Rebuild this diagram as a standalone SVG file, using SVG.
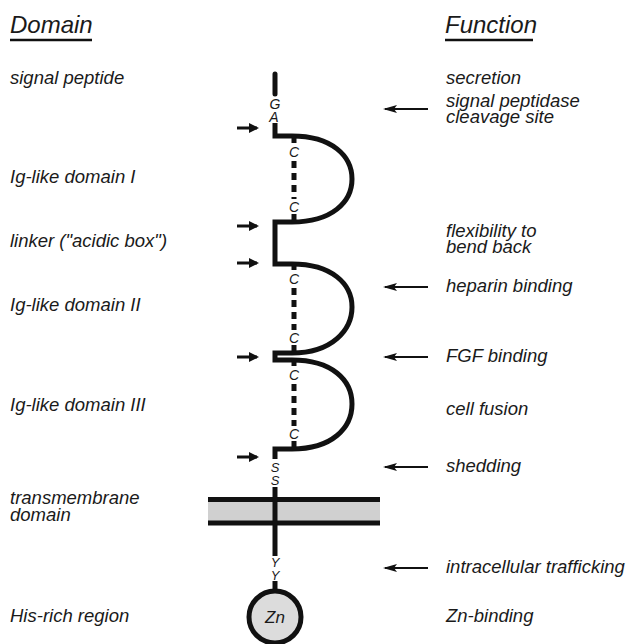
<svg xmlns="http://www.w3.org/2000/svg" width="632" height="644" viewBox="0 0 632 644">
<style>
text{font-family:"Liberation Sans",Arial,Helvetica,sans-serif;font-style:italic;fill:#1a1a1a}
.lbl{font-size:18.5px}
.ttl{font-size:24px}
.res{font-size:14px;text-anchor:middle}
.sm{font-size:13px;text-anchor:middle}
.chain{fill:none;stroke:#111;stroke-width:5;stroke-linejoin:miter}
.ss{fill:none;stroke:#111;stroke-width:5}
.la{stroke:#111;stroke-width:3;marker-end:url(#headS)}
.ra{stroke:#111;stroke-width:2;marker-end:url(#headL)}
</style>
<defs>
<marker id="headS" viewBox="0 0 10 10" refX="8" refY="5" markerWidth="10" markerHeight="11" markerUnits="userSpaceOnUse" orient="auto"><path d="M0,0 L10,5 L0,10 z" fill="#111"/></marker>
<marker id="headL" viewBox="0 0 14 8" refX="12" refY="4" markerWidth="14" markerHeight="8" markerUnits="userSpaceOnUse" orient="auto"><path d="M0,0 L14,4 L0,8 L3,4 z" fill="#111"/></marker>
</defs>
<g id="titles">
<text class="ttl" x="10" y="33">Domain</text>
<line x1="10" y1="40" x2="92" y2="40" stroke="#111" stroke-width="2.5"/>
<text class="ttl" x="445" y="33">Function</text>
<line x1="445" y1="40" x2="533" y2="40" stroke="#111" stroke-width="2.5"/>
</g>
<g id="domain-labels">
<text class="lbl" x="10" y="84">signal peptide</text>
<text class="lbl" x="10" y="183">Ig-like domain I</text>
<text class="lbl" x="10" y="247">linker ("acidic box")</text>
<text class="lbl" x="10" y="311">Ig-like domain II</text>
<text class="lbl" x="10" y="411">Ig-like domain III</text>
<text class="lbl" x="10" y="504">transmembrane</text>
<text class="lbl" x="10" y="521">domain</text>
<text class="lbl" x="10" y="622">His-rich region</text>
</g>
<g id="function-labels">
<text class="lbl" x="446" y="84">secretion</text>
<text class="lbl" x="446" y="107">signal peptidase</text>
<text class="lbl" x="446" y="123">cleavage site</text>
<text class="lbl" x="446" y="237">flexibility to</text>
<text class="lbl" x="446" y="253">bend back</text>
<text class="lbl" x="446" y="292">heparin binding</text>
<text class="lbl" x="446" y="362">FGF binding</text>
<text class="lbl" x="446" y="415">cell fusion</text>
<text class="lbl" x="446" y="472">shedding</text>
<text class="lbl" x="446" y="573">intracellular trafficking</text>
<text class="lbl" x="446" y="622">Zn-binding</text>
</g>
<g id="membrane">
<rect x="208" y="501" width="172" height="21" fill="#d0d0d0"/>
<line x1="208" y1="499.5" x2="380" y2="499.5" stroke="#111" stroke-width="5"/>
<line x1="208" y1="523" x2="380" y2="523" stroke="#111" stroke-width="5"/>
</g>
<g id="signal-peptide">
<line x1="275" y1="74" x2="275" y2="94" stroke="#111" stroke-width="5" stroke-linecap="round"/>
<text class="res" x="275" y="109">G</text>
<text class="res" x="274" y="122">A</text>
</g>
<g id="ig-domains">
<path class="chain" d="M275,123 V136 H292 C332,136 352,156 352,179 C352,202 332,222 292,222 H275 V264 H292 C332,264 352,284 352,307 C352,330 332,353 292,353 H275 V360 H292 C332,360 352,380 352,404 C352,428 332,449 292,449 H275 V459"/>
<g id="ss-bond-1">
<line class="ss" x1="294" y1="136" x2="294" y2="143"/>
<text class="res" x="294" y="157">C</text>
<line class="ss" x1="294" y1="161" x2="294" y2="199" stroke-dasharray="7 5"/>
<text class="res" x="294" y="212">C</text>
<line class="ss" x1="294" y1="214" x2="294" y2="222"/>
</g>
<g id="ss-bond-2">
<line class="ss" x1="294" y1="264" x2="294" y2="270"/>
<text class="res" x="294" y="284">C</text>
<line class="ss" x1="294" y1="288" x2="294" y2="330" stroke-dasharray="7 5"/>
<text class="res" x="294" y="343">C</text>
<line class="ss" x1="294" y1="345" x2="294" y2="353"/>
</g>
<g id="ss-bond-3">
<line class="ss" x1="294" y1="360" x2="294" y2="366"/>
<text class="res" x="294" y="380">C</text>
<line class="ss" x1="294" y1="384" x2="294" y2="426" stroke-dasharray="7 5"/>
<text class="res" x="294" y="439">C</text>
<line class="ss" x1="294" y1="441" x2="294" y2="449"/>
</g>
</g>
<g id="transmembrane">
<text class="sm" x="275" y="472">S</text>
<text class="sm" x="275" y="485">S</text>
<line x1="275" y1="487" x2="275" y2="556" stroke="#111" stroke-width="5"/>
<text class="sm" x="275" y="567">Y</text>
<text class="sm" x="275" y="580">Y</text>
<line x1="275" y1="581" x2="275" y2="591" stroke="#111" stroke-width="5"/>
</g>
<g id="his-rich">
<circle cx="275" cy="617" r="26" fill="#dcdcdc" stroke="#111" stroke-width="5"/>
<text x="275" y="623" font-size="17" text-anchor="middle">Zn</text>
</g>
<g id="connectors">
<line class="la" x1="237" y1="128" x2="257" y2="128"/>
<line class="la" x1="237" y1="226" x2="257" y2="226"/>
<line class="la" x1="237" y1="263" x2="257" y2="263"/>
<line class="la" x1="237" y1="357" x2="257" y2="357"/>
<line class="la" x1="237" y1="457" x2="257" y2="457"/>
<line class="ra" x1="428" y1="109" x2="385" y2="109"/>
<line class="ra" x1="428" y1="287" x2="385" y2="287"/>
<line class="ra" x1="428" y1="357" x2="385" y2="357"/>
<line class="ra" x1="428" y1="467" x2="385" y2="467"/>
<line class="ra" x1="428" y1="568" x2="385" y2="568"/>
</g>
</svg>
